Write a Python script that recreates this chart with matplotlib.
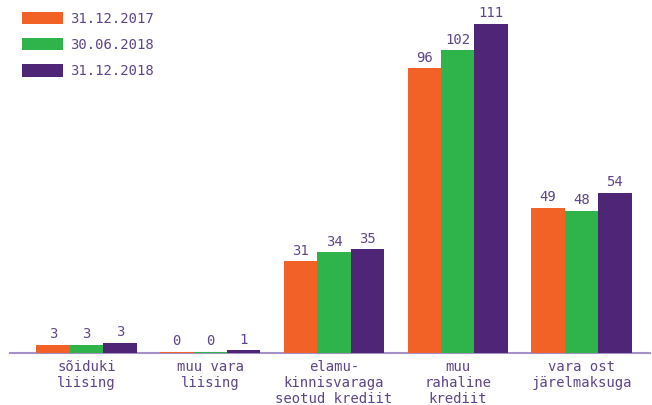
import numpy as np
import matplotlib.pyplot as plt

plt.rcParams['font.family'] = ['DejaVu Sans Mono']

categories = ["sõiduki\nliising", "muu vara\nliising",
              "elamu-\nkinnisvaraga\nseotud krediit",
              "muu\nrahaline\nkrediit", "vara ost\njärelmaksuga"]
series_names = ["31.12.2017", "30.06.2018", "31.12.2018"]
val_2017 = [2.8, 0.5, 31, 96, 49]
val_2018a = [2.8, 0.5, 34, 102, 48]
val_2018b = [3.4, 1, 35, 111, 54]
colors = ["#F26126", "#2FB34B", "#4F2677"]
text_col = "#5E4589"

fig = plt.figure(figsize=(6.52, 4.05), dpi=100)
ax = fig.add_axes([10 / 652, 52 / 405, 640 / 652, 353 / 405])

x = np.arange(len(categories))
w = 0.27
for i, (vals, name, c) in enumerate(zip([val_2017, val_2018a, val_2018b], series_names, colors)):
    bars = ax.bar(x + (i - 1) * w, vals, w, color=c, label=name, zorder=3)
    ax.bar_label(bars, labels=[f"{v:.0f}" for v in vals], padding=2.5,
                 color=text_col, fontsize=10)

ax.set_xlim(-0.618, 4.554)
ax.set_ylim(0, 119)
ax.set_xticks(x)
ax.set_xticklabels(categories, color=text_col, fontsize=10, linespacing=1.2)
ax.tick_params(axis='x', length=0, pad=5)
ax.set_yticks([])
for s in ["top", "right", "left"]:
    ax.spines[s].set_visible(False)
ax.spines["bottom"].set_color("#A590C8")
ax.spines["bottom"].set_linewidth(1.5)

leg = ax.legend(loc="upper left", bbox_to_anchor=(0.0, 1.0), frameon=False,
                fontsize=10, handlelength=3.0, handleheight=1.0,
                labelspacing=0.88, handletextpad=0.5, borderaxespad=0.45)
for t in leg.get_texts():
    t.set_color(text_col)

fig.savefig("out.png", dpi=100)
